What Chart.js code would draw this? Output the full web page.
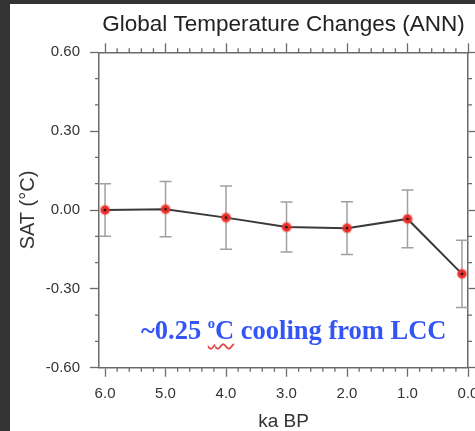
<!DOCTYPE html>
<html>
<head>
<meta charset="utf-8">
<script src="https://cdn.jsdelivr.net/npm/chart.js@4/dist/chart.umd.min.js"></script>
<style>
  body { margin: 0; background: #333; width: 475px; height: 431px; overflow: hidden; }
  #frame { position: absolute; left: 10px; top: 4px; width: 465px; height: 427px; background: #fff; }
  #note {
    position: absolute; left: 141px; top: 315px; line-height: 25px; white-space: nowrap;
    font: bold 26.5px "Liberation Serif", "DejaVu Serif", serif; color: #3355f5;
  }
  #note .deg { text-decoration: underline wavy #e05050; text-decoration-thickness: 1.5px; text-underline-offset: 4px; }
  #note sup { font-size: 0.55em; vertical-align: 0.75em; }
</style>
</head>
<body>
<div id="frame"><canvas id="tempChart" width="465" height="427"></canvas></div>
<div id="note">~0.25 <span class="deg"><sup>o</sup>C</span> cooling from LCC</div>

<script>
// ka BP and annual mean SAT change (°C) with error bars
const years = [6.0, 5.0, 4.0, 3.0, 2.0, 1.0, 0.1];
const sat = [0.0, 0.003, -0.029, -0.065, -0.069, -0.034, -0.243];
const satErr = [0.10, 0.105, 0.12, 0.095, 0.10, 0.11, 0.128];

const xTicks = [6, 5, 4, 3, 2, 1, 0];
const yTicks = [-0.6, -0.3, 0, 0.3, 0.6];
const xMinorStep = 0.2;
const yMinorStep = 0.1;

const axisColor = "#6a6a6a";

// red marker with a black dot in the middle
function makeMarker() {
  const c = document.createElement("canvas");
  c.width = 12;
  c.height = 12;
  const g = c.getContext("2d");
  g.fillStyle = "rgba(240,60,50,0.45)";
  g.beginPath();
  g.arc(6, 6, 5.4, 0, Math.PI * 2);
  g.fill();
  g.fillStyle = "#e8302a";
  g.beginPath();
  g.arc(6, 6, 4.3, 0, Math.PI * 2);
  g.fill();
  g.fillStyle = "#111";
  g.beginPath();
  g.arc(6, 6, 1.3, 0, Math.PI * 2);
  g.fill();
  return c;
}

const extras = {
  id: "extras",
  beforeDatasetsDraw(chart) {
    const { ctx, scales } = chart;
    const x = scales.x;
    const y = scales.y;
    ctx.save();
    ctx.strokeStyle = "#a0a0a0";
    ctx.lineWidth = 1.5;
    years.forEach((yr, i) => {
      const px = x.getPixelForValue(yr);
      const top = y.getPixelForValue(sat[i] + satErr[i]);
      const bot = y.getPixelForValue(sat[i] - satErr[i]);
      ctx.beginPath();
      ctx.moveTo(px, top);
      ctx.lineTo(px, bot);
      ctx.moveTo(px - 6, top);
      ctx.lineTo(px + 6, top);
      ctx.moveTo(px - 6, bot);
      ctx.lineTo(px + 6, bot);
      ctx.stroke();
    });
    ctx.restore();
  },
  afterDraw(chart) {
    // minor tick marks on all four sides, pointing outward
    const { ctx, chartArea, scales } = chart;
    const x = scales.x;
    const y = scales.y;
    ctx.save();
    ctx.strokeStyle = axisColor;
    ctx.lineWidth = 1.3;
    ctx.beginPath();
    for (let k = 1; k * xMinorStep < 6.1; k++) {
      const v = k * xMinorStep;
      if (Math.abs(v - Math.round(v)) < 1e-6) continue;
      const px = x.getPixelForValue(v);
      ctx.moveTo(px, chartArea.bottom);
      ctx.lineTo(px, chartArea.bottom + 4);
      ctx.moveTo(px, chartArea.top);
      ctx.lineTo(px, chartArea.top - 4);
    }
    for (let k = -5; k <= 5; k++) {
      if (k % 3 === 0) continue;
      const py = y.getPixelForValue(k * yMinorStep);
      ctx.moveTo(chartArea.left, py);
      ctx.lineTo(chartArea.left - 4, py);
      ctx.moveTo(chartArea.right, py);
      ctx.lineTo(chartArea.right + 4, py);
    }
    ctx.stroke();
    ctx.restore();
  },
};

function noPad(s) {
  s.paddingLeft = 0;
  s.paddingRight = 0;
  s.paddingTop = 0;
  s.paddingBottom = 0;
}

const gridOpts = {
  drawOnChartArea: false,
  drawTicks: true,
  tickLength: 9,
  tickColor: axisColor,
  tickWidth: 1.3,
};
const borderOpts = { display: true, color: axisColor, width: 1.5 };

new Chart(document.getElementById("tempChart"), {
  type: "line",
  data: {
    datasets: [
      {
        label: "SAT",
        data: years.map((yr, i) => ({ x: yr, y: sat[i] })),
        borderColor: "#3a3a3a",
        borderWidth: 2,
        tension: 0,
        pointStyle: makeMarker(),
        pointRadius: 5,
        pointHoverRadius: 5,
      },
    ],
  },
  options: {
    responsive: false,
    animation: false,
    layout: { padding: 0 },
    plugins: {
      legend: { display: false },
      tooltip: { enabled: false },
      title: {
        display: true,
        text: "Global Temperature Changes (ANN)",
        fullSize: false,
        color: "#222",
        font: { family: "Liberation Sans, Arial, sans-serif", size: 22.5, weight: "normal" },
        padding: { top: 7, bottom: 2.2 },
      },
    },
    scales: {
      x: {
        type: "linear",
        position: "bottom",
        reverse: true,
        min: 0,
        max: 6.1,
        afterBuildTicks: (s) => { s.ticks = xTicks.map((v) => ({ value: v })); },
        afterFit: (s) => { s.height = 63.3; noPad(s); },
        ticks: {
          callback: (v) => v.toFixed(1),
          color: "#333",
          padding: 8,
          maxRotation: 0,
          autoSkip: false,
          font: { family: "Liberation Sans, Arial, sans-serif", size: 15 },
        },
        grid: gridOpts,
        border: borderOpts,
        title: {
          display: true,
          text: "ka BP",
          color: "#333",
          padding: 0,
          font: { family: "Liberation Sans, Arial, sans-serif", size: 19, lineHeight: 1 },
        },
      },
      x2: {
        type: "linear",
        position: "top",
        reverse: true,
        min: 0,
        max: 6.1,
        afterBuildTicks: (s) => { s.ticks = xTicks.map((v) => ({ value: v })); },
        afterFit: (s) => { s.height = 12.1; noPad(s); },
        ticks: { display: false },
        grid: gridOpts,
        border: borderOpts,
      },
      y: {
        position: "left",
        min: -0.6,
        max: 0.6,
        afterBuildTicks: (s) => { s.ticks = yTicks.map((v) => ({ value: v })); },
        afterFit: (s) => { s.width = 89; noPad(s); },
        ticks: {
          callback: (v) => v.toFixed(2),
          color: "#333",
          padding: 10,
          font: { family: "Liberation Sans, Arial, sans-serif", size: 15 },
        },
        grid: gridOpts,
        border: borderOpts,
        title: {
          display: true,
          text: "SAT (°C)",
          color: "#333",
          padding: { top: 6, bottom: 0 },
          font: { family: "Liberation Sans, Arial, sans-serif", size: 20 },
        },
      },
      y2: {
        position: "right",
        min: -0.6,
        max: 0.6,
        afterBuildTicks: (s) => { s.ticks = yTicks.map((v) => ({ value: v })); },
        afterFit: (s) => { s.width = 7; noPad(s); },
        ticks: { display: false },
        grid: gridOpts,
        border: borderOpts,
      },
    },
  },
  plugins: [extras],
});
</script>
</body>
</html>
